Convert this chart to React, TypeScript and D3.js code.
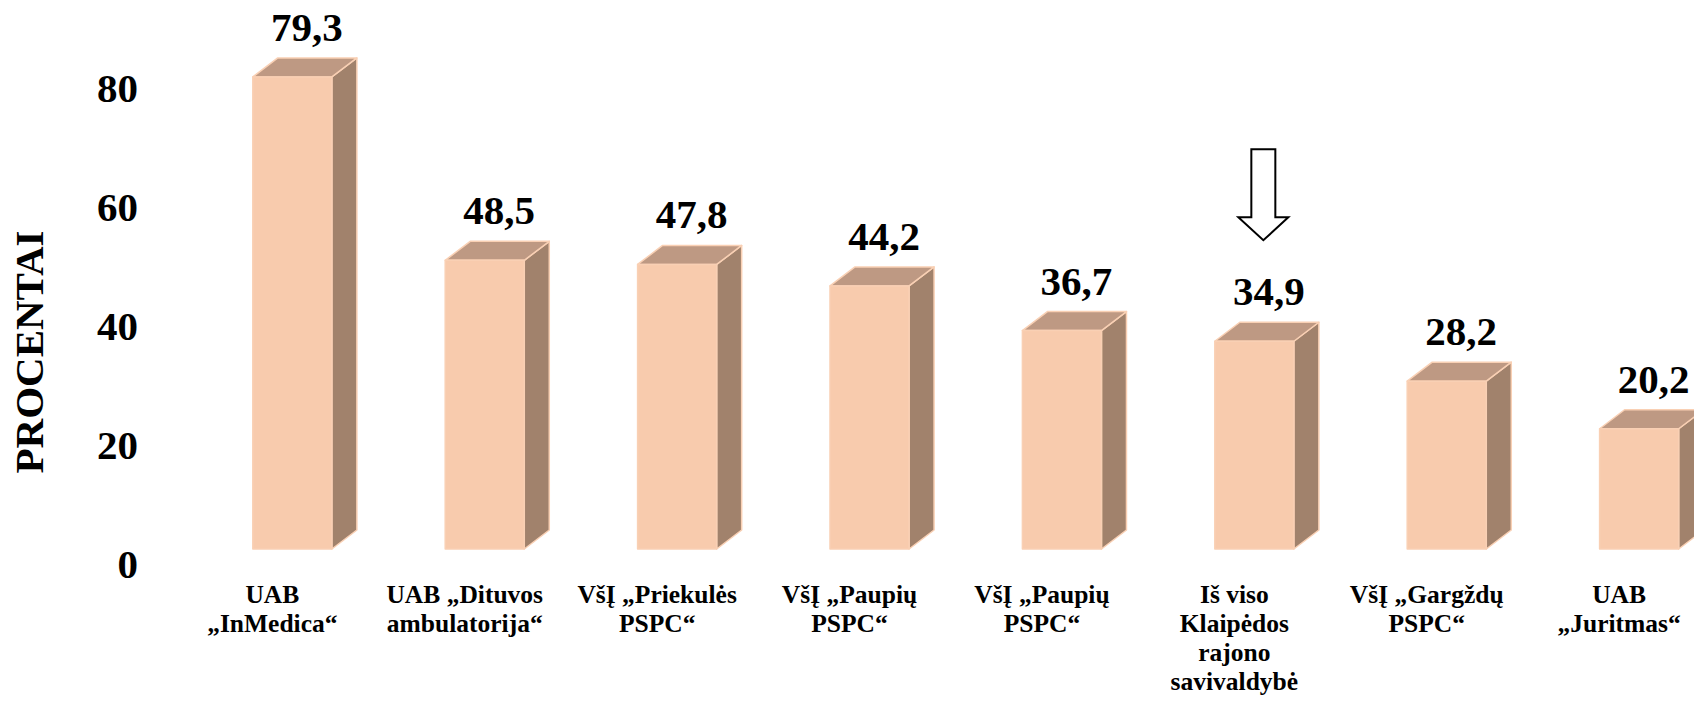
import React from "react";
import { scaleBand, scaleLinear } from "d3";

const categories = [
  "UAB „InMedica“",
  "UAB „Dituvos ambulatorija“",
  "VšĮ „Priekulės PSPC“",
  "VšĮ „Paupių PSPC“ 1",
  "VšĮ „Paupių PSPC“ 2",
  "Iš viso Klaipėdos rajono savivaldybė",
  "VšĮ „Gargždų PSPC“",
  "UAB „Juritmas“",
];
const labelLines = [
  ["UAB", "„InMedica“"],
  ["UAB „Dituvos", "ambulatorija“"],
  ["VšĮ „Priekulės", "PSPC“"],
  ["VšĮ „Paupių", "PSPC“"],
  ["VšĮ „Paupių", "PSPC“"],
  ["Iš viso", "Klaipėdos", "rajono", "savivaldybė"],
  ["VšĮ „Gargždų", "PSPC“"],
  ["UAB", "„Juritmas“"],
];
const values = [79.3, 48.5, 47.8, 44.2, 36.7, 34.9, 28.2, 20.2];
const ticks = [0, 20, 40, 60, 80];
const highlighted = "Iš viso Klaipėdos rajono savivaldybė";

const W = 1694;
const H = 704;
const font = "'Liberation Serif', 'Times New Roman', serif";
const dx = 25;
const dy = 19;

const App = () => {
  const x = scaleBand<string>()
    .domain(categories)
    .range([252.8, 252.8 + 8 * 192.4 - 192.4 * 0.589])
    .paddingInner(0.589)
    .paddingOuter(0);
  const y = scaleLinear().domain([0, 80]).range([549, 72.8]);
  const bw = x.bandwidth();
  const y0 = y(0);

  const hx = (x(highlighted) as number) + bw / 2 + 9;
  const hv = values[categories.indexOf(highlighted)];
  const tip = y(hv) - 101;

  return (
    <div style={{ position: "fixed", left: 0, top: 0 }}>
      <svg width={W} height={H} style={{ display: "block", background: "#fff" }}>
        {/* y axis title */}
        <text
          transform={`translate(29,352) rotate(-90)`}
          textAnchor="middle"
          dominantBaseline="central"
          fontFamily={font}
          fontWeight="bold"
          fontSize={41}
        >
          PROCENTAI
        </text>

        {/* y tick labels */}
        {ticks.map((t) => (
          <text
            key={t}
            x={138}
            y={y(t) + 15}
            dy="0.35em"
            textAnchor="end"
            fontFamily={font}
            fontWeight="bold"
            fontSize={41}
          >
            {t}
          </text>
        ))}

        {/* bars */}
        {categories.map((c, i) => {
          const bx = x(c) as number;
          const yv = y(values[i]);
          return (
            <g key={c} stroke="#F9D0B4" strokeWidth={1.5} strokeLinejoin="round">
              <polygon
                points={`${bx + bw},${yv} ${bx + bw + dx},${yv - dy} ${bx + bw + dx},${y0 - dy} ${bx + bw},${y0}`}
                fill="#A1826C"
              />
              <polygon
                points={`${bx},${yv} ${bx + dx},${yv - dy} ${bx + bw + dx},${yv - dy} ${bx + bw},${yv}`}
                fill="#BE9983"
              />
              <rect x={bx} y={yv} width={bw} height={y0 - yv} fill="#F8CBAD" />
            </g>
          );
        })}

        {/* value labels */}
        {categories.map((c, i) => (
          <text
            key={c}
            x={(x(c) as number) + bw / 2 + dx / 2 + 2}
            y={y(values[i]) - dy - 17}
            textAnchor="middle"
            fontFamily={font}
            fontWeight="bold"
            fontSize={41}
          >
            {values[i].toFixed(1).replace(".", ",")}
          </text>
        ))}

        {/* category labels */}
        {categories.map((c, i) => (
          <text
            key={c}
            textAnchor="middle"
            fontFamily={font}
            fontWeight="bold"
            fontSize={25.5}
          >
            {labelLines[i].map((line, j) => (
              <tspan key={j} x={(x(c) as number) + bw / 2 - 20} y={603 + j * 29}>
                {line}
              </tspan>
            ))}
          </text>
        ))}

        {/* arrow pointing at the municipality total */}
        <polygon
          points={[
            [hx - 12, tip - 91],
            [hx + 12, tip - 91],
            [hx + 12, tip - 23],
            [hx + 25, tip - 23],
            [hx, tip],
            [hx - 25, tip - 23],
            [hx - 12, tip - 23],
          ]
            .map((p) => p.join(","))
            .join(" ")}
          fill="#fff"
          stroke="#000"
          strokeWidth={2}
        />
      </svg>
    </div>
  );
};

export default App;
